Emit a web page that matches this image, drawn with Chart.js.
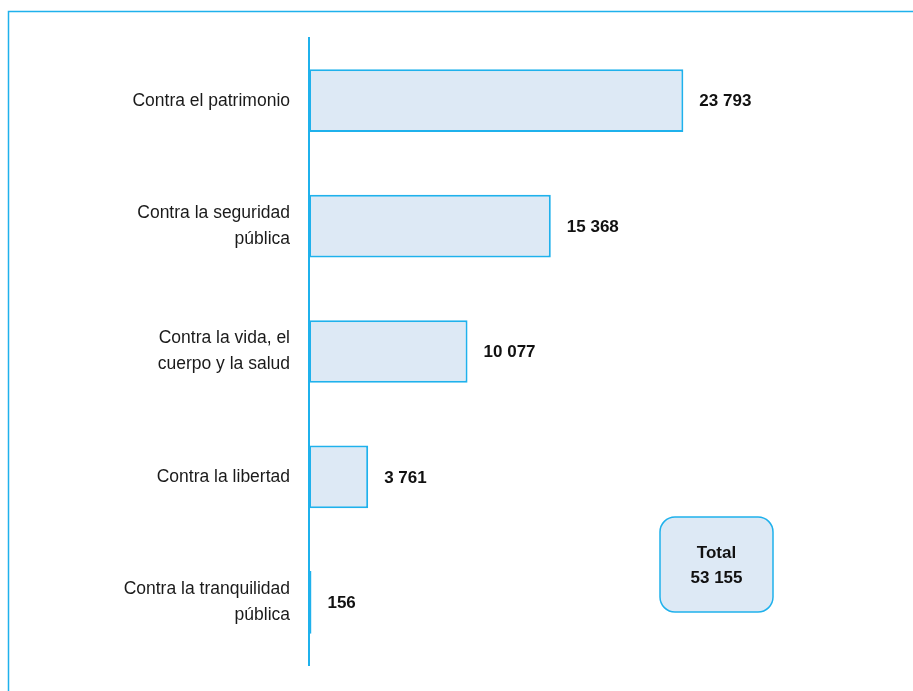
<!DOCTYPE html>
<html>
<head>
<meta charset="utf-8">
<script src="https://cdn.jsdelivr.net/npm/chart.js@4"></script>
<style>
  html, body { margin: 0; padding: 0; background: #fff; }
  canvas { display: block; }
</style>
</head>
<body>
<canvas id="delitosChart" width="913" height="691"></canvas>
<script>
// === Data ===
const categories = [
  "Contra el patrimonio",
  ["Contra la seguridad", "pública"],
  ["Contra la vida, el", "cuerpo y la salud"],
  "Contra la libertad",
  ["Contra la tranquilidad", "pública"],
];
const values = [23793, 15368, 10077, 3761, 156];
const totalLabel = "Total";

// === Styles ===
const CYAN = "#1fb1ec";
const FILL = "#dde9f5";
const FONT = "'Liberation Sans', Arial, sans-serif";

function fmt(n) {
  return String(n).replace(/\B(?=(\d{3})+(?!\d))/g, " ");
}

// frame, value labels and total box
const extras = {
  id: "extras",
  beforeDraw(chart) {
    const ctx = chart.ctx;
    ctx.save();
    ctx.strokeStyle = CYAN;
    ctx.lineWidth = 1.5;
    ctx.beginPath();
    ctx.moveTo(8.5, 700);
    ctx.lineTo(8.5, 11.5);
    ctx.lineTo(920, 11.5);
    ctx.stroke();
    ctx.restore();
  },
  afterDatasetsDraw(chart) {
    const ctx = chart.ctx;
    const meta = chart.getDatasetMeta(0);
    ctx.save();
    ctx.fillStyle = "#111";
    ctx.font = "bold 17px " + FONT;
    ctx.textAlign = "left";
    ctx.textBaseline = "middle";
    meta.data.forEach((bar, i) => {
      ctx.fillText(fmt(values[i]), bar.x + 16, bar.y + 1);
    });

    // total box
    const total = values.reduce((a, b) => a + b, 0);
    const bx = 660, by = 517, bw = 113, bh = 95;
    ctx.beginPath();
    ctx.roundRect(bx, by, bw, bh, 15);
    ctx.fillStyle = FILL;
    ctx.fill();
    ctx.strokeStyle = CYAN;
    ctx.lineWidth = 1.5;
    ctx.stroke();
    ctx.fillStyle = "#111";
    ctx.textAlign = "center";
    ctx.fillText(totalLabel, bx + bw / 2, 553);
    ctx.fillText(fmt(total), bx + bw / 2, 578);
    ctx.restore();
  },
};

new Chart(document.getElementById("delitosChart"), {
  type: "bar",
  data: {
    labels: categories,
    datasets: [
      {
        data: values,
        backgroundColor: FILL,
        borderColor: CYAN,
        borderWidth: 2,
        borderSkipped: false,
        barPercentage: 0.5,
        categoryPercentage: 1,
      },
    ],
  },
  options: {
    indexAxis: "y",
    responsive: false,
    animation: false,
    layout: { padding: { top: 38, bottom: 26, left: 0, right: 132 } },
    scales: {
      x: { display: false, min: 0, max: 30000 },
      y: {
        grid: { display: false, drawTicks: false },
        border: { display: true, color: CYAN, width: 2 },
        ticks: {
          color: "#1a1a1a",
          padding: 19,
          font: { family: FONT, size: 17.5, lineHeight: 1.5 },
        },
        afterFit(scale) {
          scale.width = 309;
          scale.paddingTop = 0;
          scale.paddingBottom = 0;
        },
      },
    },
    plugins: {
      legend: { display: false },
      tooltip: { enabled: false },
    },
  },
  plugins: [extras],
});
</script>
</body>
</html>
